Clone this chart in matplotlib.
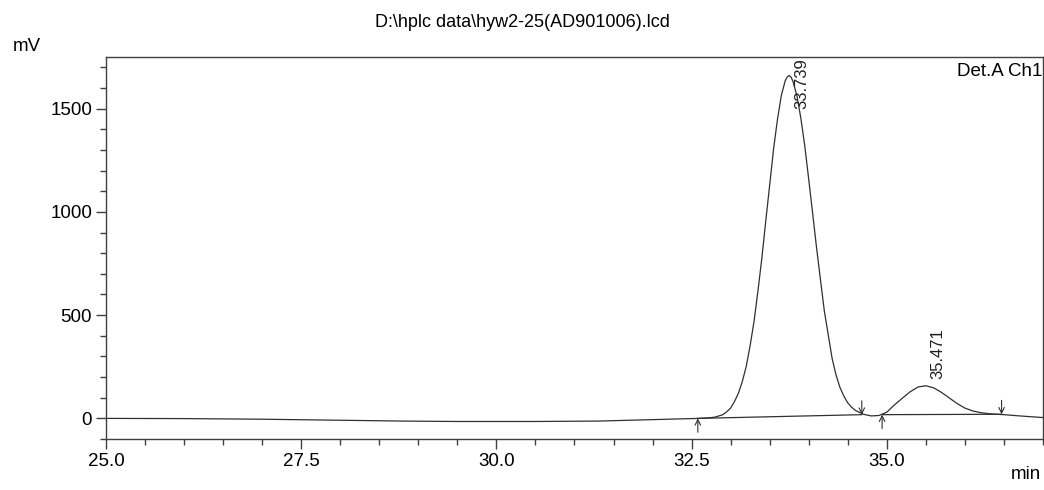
import matplotlib
matplotlib.use('Agg')
import matplotlib.pyplot as plt
from matplotlib.ticker import MultipleLocator

# chromatogram (min, mV)
time = [25.0, 26.0, 27.0, 28.0, 28.8, 29.5, 30.5, 31.3, 32.0, 32.6, 32.7, 32.8,
        32.9, 32.95, 33.0, 33.05, 33.1, 33.15, 33.2, 33.25, 33.3, 33.35, 33.4,
        33.45, 33.5, 33.55, 33.6, 33.65, 33.7, 33.725, 33.75, 33.775, 33.8,
        33.85, 33.9, 33.95, 34.0, 34.05, 34.1, 34.15, 34.2, 34.25, 34.3, 34.35,
        34.4, 34.45, 34.5, 34.55, 34.6, 34.7, 34.8, 34.9,
        35.0, 35.1, 35.2, 35.3, 35.4, 35.5, 35.6, 35.7, 35.8, 35.9, 36.0, 36.1,
        36.2, 36.3, 36.4, 36.5, 36.7, 37.0]
signal = [0, -1, -4, -9, -13, -15, -15, -13, -6, 0, 2, 6,
          18, 32, 50, 82, 122, 179, 252, 353, 470, 618, 776,
          956, 1130, 1304, 1448, 1565, 1636, 1653, 1660, 1652, 1630,
          1560, 1452, 1318, 1158, 994, 828, 673, 520, 405, 290, 210,
          150, 108, 75, 54, 38, 20, 12, 14,
          30, 66, 98, 129, 152, 158, 148, 126, 99, 72, 50, 36,
          28, 23, 20, 18, 12, 4]

peak_rt = [33.739, 35.471]
peak_top = [1660, 158]
peak_labels = ['33.739', '35.471']

# integration start / end marks
start_t = [32.58, 34.94]
start_v = [0, 18]
end_t = [34.68, 36.47]
end_v = [18, 20]

plt.rcParams['font.family'] = ['Liberation Sans', 'DejaVu Sans']

fig = plt.figure(figsize=(10.44, 4.9), dpi=100)
ax = fig.add_axes([0.1015, 0.104, 0.8975, 0.7797])

line_col = '#303030'
ax.plot(time, signal, color=line_col, lw=0.9)

for i in range(len(start_t)):
    ax.plot([start_t[i], end_t[i]], [start_v[i], end_v[i]], color=line_col, lw=0.9)
    ax.annotate('', xy=(start_t[i], start_v[i]), xytext=(0, -10), textcoords='offset points',
                arrowprops=dict(arrowstyle='->', color=line_col, lw=0.8, shrinkA=0, shrinkB=0))
    ax.annotate('', xy=(end_t[i], end_v[i]), xytext=(0, 10), textcoords='offset points',
                arrowprops=dict(arrowstyle='->', color=line_col, lw=0.8, shrinkA=0, shrinkB=0))

label_offsets = [(9.5, -24), (10, 5)]
for i in range(len(peak_rt)):
    ax.annotate(peak_labels[i], xy=(peak_rt[i], peak_top[i]), xytext=label_offsets[i],
                textcoords='offset points', rotation=90, ha='center', va='bottom',
                fontsize=12, color='#202020')

ax.set_xlim(25.0, 37.0)
ax.set_ylim(-100, 1750)
ax.xaxis.set_major_locator(MultipleLocator(2.5))
ax.xaxis.set_minor_locator(MultipleLocator(0.5))
ax.yaxis.set_major_locator(MultipleLocator(500))
ax.yaxis.set_minor_locator(MultipleLocator(100))
ax.xaxis.set_major_formatter(plt.FormatStrFormatter('%.1f'))
ax.tick_params(which='major', length=7, width=1, color='#404040', labelsize=13.5, pad=3)
ax.tick_params(which='minor', length=4, width=1, color='#404040')
for s in ax.spines.values():
    s.set_color('#404040')
    s.set_linewidth(1)

ax.text(0.999, 0.985, 'Det.A Ch1', transform=ax.transAxes, ha='right', va='top', fontsize=13.5)
fig.text(0.5, 0.955, r'D:\hplc data\hyw2-25(AD901006).lcd', ha='center', va='center', fontsize=13)
fig.text(0.012, 0.905, 'mV', ha='left', va='center', fontsize=13.5)
fig.text(0.997, 0.015, 'min', ha='right', va='bottom', fontsize=13.5)

fig.savefig('out.png', dpi=100)
